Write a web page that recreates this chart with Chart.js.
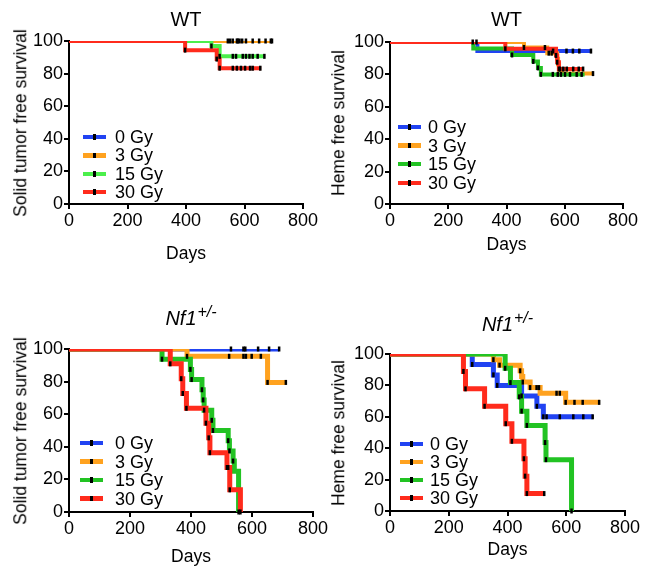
<!DOCTYPE html>
<html>
<head>
<meta charset="utf-8">
<title>Survival after irradiation</title>
<script src="https://cdn.jsdelivr.net/npm/chart.js@4.4.1/dist/chart.umd.min.js"></script>
<style>
  body { margin: 0; background: #fff; }
  #page { position: relative; width: 649px; height: 575px; overflow: hidden;
          font-family: "Liberation Sans", Arial, Helvetica, sans-serif; color: #000; }
  #page canvas { position: absolute; }
  .txt { position: absolute; white-space: nowrap; line-height: 1; transform: translate(-50%, -50%); }
  .ytitle { position: absolute; white-space: nowrap; line-height: 1; font-size: 17.5px;
            transform: translate(-50%, -50%) rotate(-90deg); }
  .title { font-size: 20px; }
  .title i sup { font-size: 16px; vertical-align: 0; position: relative; top: -8px; margin-left: 1px; }
  .days { font-size: 17.5px; }
  .sw { position: absolute; width: 23px; height: 4.5px; }
  .sw b { position: absolute; left: 10px; top: -0.5px; width: 2.5px; height: 5.5px; background: #000; }
  .legtxt { position: absolute; font-size: 18px; line-height: 1; white-space: nowrap; transform: translateY(-50%); }
</style>
</head>
<body>
<div id="page"></div>
<script>
/* =========================
   DATA (days, % survival)
========================= */
const doses = ["0 Gy", "3 Gy", "15 Gy", "30 Gy"];
const xTicks = [0, 200, 400, 600, 800];
const yTicks = [0, 20, 40, 60, 80, 100];

// WT - solid tumor free survival
const wtSolid0 = [[0, 100], [690, 100]];
const wtSolid3 = [[0, 100], [694, 100]];
const wtSolid15 = [[0, 100], [487, 96.9], [515, 90.6], [670, 90.6]];
const wtSolid30 = [[0, 100], [397, 94.4], [505, 88.9], [515, 83.3], [657, 83.3]];
const wtSolid0Marks = [577, 605, 628, 650, 672, 690];
const wtSolid3Marks = [543, 551, 560, 574, 583, 592, 694];
const wtSolid15Marks = [487, 515, 560, 571, 594, 605, 617, 628, 645, 668];
const wtSolid30Marks = [397, 505, 515, 560, 574, 588, 602, 619, 628, 654];

// WT - heme free survival
const wtHeme0 = [[0, 100], [300, 94.4], [692, 94.4]];
const wtHeme3 = [[0, 100], [460, 96.6], [540, 93.1], [574, 89.7], [577, 86.2], [580, 82.8], [590, 80.5], [697, 80.5]];
const wtHeme15 = [[0, 100], [286, 96], [419, 92], [492, 88], [508, 84], [518, 80], [668, 80]];
const wtHeme30 = [[0, 100], [396, 95.8], [570, 91.7], [574, 87.5], [580, 83.3], [665, 83.3]];
const wtHeme0Marks = [297, 560, 606, 628, 650, 690];
const wtHeme3Marks = [460, 532, 545, 555, 697];
const wtHeme15Marks = [284, 419, 492, 508, 518, 559, 576, 587, 601, 618, 641, 658];
const wtHeme30Marks = [396, 570, 574, 580, 584, 595, 607, 629, 648, 663];

// Nf1+/- - solid tumor free survival
const nfSolid0 = [[0, 100], [689, 100]];
const nfSolid3 = [[0, 100], [387, 95.5], [651, 79.5], [711, 79.5]];
const nfSolid15 = [[0, 100], [305, 93.75], [398, 87.5], [402, 81.25], [436, 75], [440, 68.75], [443, 62.5],
                   [468, 56.25], [472, 50], [522, 43.75], [526, 37.5], [538, 31.25], [542, 25], [556, 0]];
const nfSolid30 = [[0, 100], [332, 90.9], [368, 81.8], [373, 72.7], [385, 63.6], [449, 54.5], [458, 45.5],
                   [462, 36.4], [518, 27.3], [527, 13.6], [562, 0]];
const nfSolid0Marks = [531, 572, 578, 620, 656, 689];
const nfSolid3Marks = [387, 525, 572, 580, 599, 629, 651, 711];
const nfSolid15Marks = [305, 398, 402, 436, 440, 443, 468, 472, 522, 526, 538, 556];
const nfSolid30Marks = [332, 368, 373, 385, 449, 458, 462, 518, 522, 527, 562];

// Nf1+/- - heme free survival
const nfHeme0 = [[0, 100], [280, 93.3], [352, 86.7], [365, 80], [448, 73.3], [500, 66.7], [522, 60], [690, 60]];
const nfHeme3 = [[0, 100], [352, 96.4], [373, 92.9], [443, 89.3], [448, 85.7], [452, 82.1], [477, 78.6],
                 [511, 75], [598, 69.2], [715, 69.2]];
const nfHeme15 = [[0, 100], [392, 90.9], [410, 81.8], [440, 72.7], [448, 63.6], [466, 54.5], [528, 43.6],
                  [531, 32.7], [618, 0]];
const nfHeme30 = [[0, 100], [250, 88.9], [257, 77.8], [322, 66.7], [394, 55.6], [415, 44.4], [456, 33.3],
                  [460, 22.2], [466, 11.1], [525, 11.1]];
const nfHeme0Marks = [280, 352, 365, 448, 500, 522, 533, 578, 624, 658, 690];
const nfHeme3Marks = [352, 373, 443, 452, 477, 499, 507, 567, 578, 598, 628, 656, 712];
const nfHeme15Marks = [392, 410, 440, 448, 466, 528, 531, 618];
const nfHeme30Marks = [250, 257, 322, 394, 415, 456, 460, 466, 525];

/* =========================
   STYLE / LAYOUT
========================= */
const FONT = "'Liberation Sans', Arial, Helvetica, sans-serif";
const BLUE = "#2143f2", ORANGE = "#ffa21f", RED = "#ff2b1c";
const LIME = "#4bef4b", GREEN = "#22c323";

const panels = [
  { title: "WT", yTitle: "Solid tumor free survival",
    curves: [wtSolid0, wtSolid3, wtSolid15, wtSolid30],
    marks: [wtSolid0Marks, wtSolid3Marks, wtSolid15Marks, wtSolid30Marks],
    colors: [BLUE, ORANGE, LIME, RED], lineW: 4,
    box: { left: 0, top: 0, w: 325, h: 285 },
    area: { left: 69, top: 41, right: 303, bottom: 204 },
    titleY: 18.5, yTitleX: 20.5, daysY: 253.5,
    legend: { x: 83, y: 137, textX: 115, step: 18.4 } },
  { title: "WT", yTitle: "Heme free survival",
    curves: [wtHeme0, wtHeme3, wtHeme15, wtHeme30],
    marks: [wtHeme0Marks, wtHeme3Marks, wtHeme15Marks, wtHeme30Marks],
    colors: [BLUE, ORANGE, GREEN, RED], lineW: 4,
    box: { left: 325, top: 0, w: 324, h: 285 },
    area: { left: 390, top: 42, right: 623, bottom: 204 },
    titleY: 18.5, yTitleX: 339, daysY: 245,
    legend: { x: 398, y: 127, textX: 428, step: 18.6 } },
  { title: "Nf1", sup: "+/-", yTitle: "Solid tumor free survival",
    curves: [nfSolid0, nfSolid3, nfSolid15, nfSolid30],
    marks: [nfSolid0Marks, nfSolid3Marks, nfSolid15Marks, nfSolid30Marks],
    colors: [BLUE, ORANGE, GREEN, RED], lineW: 5,
    box: { left: 0, top: 285, w: 330, h: 290 },
    area: { left: 69, top: 349, right: 313, bottom: 512 },
    titleY: 318, yTitleX: 20.5, daysY: 557,
    legend: { x: 80, y: 443, textX: 115, step: 18.5 } },
  { title: "Nf1", sup: "+/-", yTitle: "Heme free survival",
    curves: [nfHeme0, nfHeme3, nfHeme15, nfHeme30],
    marks: [nfHeme0Marks, nfHeme3Marks, nfHeme15Marks, nfHeme30Marks],
    colors: [BLUE, ORANGE, GREEN, RED], lineW: 5,
    box: { left: 330, top: 285, w: 319, h: 290 },
    area: { left: 390, top: 354, right: 625, bottom: 511 },
    titleY: 324, yTitleX: 339, daysY: 550,
    legend: { x: 400, y: 444, textX: 430, step: 18 } }
];

const page = document.getElementById("page");

// survival value at a given day
function survAt(curve, day) {
  let v = curve[0][1];
  curve.forEach(p => { if (p[0] <= day) v = p[1]; });
  return v;
}

function addText(cls, html, x, y) {
  const d = document.createElement("div");
  d.className = cls;
  d.innerHTML = html;
  d.style.left = x + "px";
  d.style.top = y + "px";
  page.appendChild(d);
  return d;
}

function axisOpts(min, max, ticks, fit) {
  return {
    type: "linear", min: min, max: max,
    afterBuildTicks: s => { s.ticks = ticks.map(v => ({ value: v })); },
    afterFit: fit,
    grid: { drawOnChartArea: false, drawTicks: true, tickLength: 5, color: "#000", lineWidth: 2 },
    border: { display: true, color: "#000", width: 2 },
    ticks: { color: "#000", font: { family: FONT, size: 18 }, padding: 1,
             maxRotation: 0, autoSkip: false }
  };
}

function buildPanel(p) {
  const b = p.box, a = p.area;
  const cv = document.createElement("canvas");
  cv.width = b.w; cv.height = b.h;
  cv.style.left = b.left + "px"; cv.style.top = b.top + "px";
  page.appendChild(cv);

  const xH = 40;
  const yW = a.left - b.left;
  const datasets = [];

  p.curves.forEach((c, i) => {
    datasets.push({
      label: doses[i],
      data: c.map(pt => ({ x: pt[0], y: pt[1] })),
      stepped: true,
      borderColor: p.colors[i],
      borderWidth: p.lineW,
      borderCapStyle: "butt",
      borderJoinStyle: "miter",
      pointRadius: 0,
      fill: false,
      clip: 0,
      order: 4 - i
    });
  });

  // censor / event ticks (black) on top of the curves
  p.marks.forEach((m, i) => {
    datasets.push({
      label: doses[i] + " marks",
      data: m.map(d => ({ x: d, y: survAt(p.curves[i], d) })),
      showLine: false,
      pointStyle: "line",
      pointRotation: 90,
      pointRadius: 2.5,
      pointBorderWidth: 2.5,
      pointBorderColor: "#000",
      pointBackgroundColor: "#000",
      clip: false,
      order: 0
    });
  });

  new Chart(cv, {
    type: "line",
    data: { datasets: datasets },
    options: {
      responsive: false,
      animation: false,
      devicePixelRatio: 1,
      events: [],
      layout: { padding: { left: 0, top: a.top - b.top, right: b.left + b.w - a.right,
                           bottom: b.top + b.h - a.bottom - xH } },
      plugins: { legend: { display: false }, tooltip: { enabled: false }, title: { display: false } },
      scales: {
        x: axisOpts(0, 800, xTicks, s => { s.height = xH; }),
        y: axisOpts(0, 100, yTicks, s => { s.width = yW; })
      }
    }
  });

  // titles
  const cx = (a.left + a.right) / 2;
  const t = p.sup ? "<i>" + p.title + "<sup>" + p.sup + "</sup></i>" : p.title;
  addText("txt title", t, cx, p.titleY);
  addText("ytitle", p.yTitle, p.yTitleX, (a.top + a.bottom) / 2);
  addText("txt days", "Days", cx, p.daysY);

  // legend
  const L = p.legend;
  doses.forEach((name, i) => {
    const y = L.y + i * L.step;
    const sw = document.createElement("div");
    sw.className = "sw";
    sw.style.left = L.x + "px";
    sw.style.top = (y - 2.25) + "px";
    sw.style.background = p.colors[i];
    sw.appendChild(document.createElement("b"));
    page.appendChild(sw);
    const tx = document.createElement("div");
    tx.className = "legtxt";
    tx.textContent = name;
    tx.style.left = L.textX + "px";
    tx.style.top = y + "px";
    page.appendChild(tx);
  });
}

panels.forEach(buildPanel);
</script>
</body>
</html>
